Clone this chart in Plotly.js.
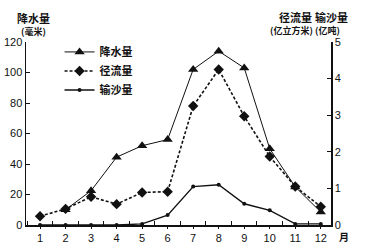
<!DOCTYPE html>
<html><head><meta charset="utf-8">
<script src="https://cdn.plot.ly/plotly-3.0.1.min.js"></script>
<style>html,body{margin:0;padding:0;background:#fff}#c{width:365px;height:243px}</style>
</head><body><div id="c"></div>
<script>
const months = [1,2,3,4,5,6,7,8,9,10,11,12];
const monthLabels = ['1','2','3','4','5','6','7','8','9','10','11','12'];
const precipitation = [null,10,22.5,44.5,52,56,102,114,103,50,25,8.5];   // 毫米
const runoff = [0.24,0.44,0.77,0.57,0.89,0.91,3.25,4.25,2.97,1.87,1.05,0.5]; // 亿立方米
const sediment = [0,0,0,0,0.03,0.27,1.05,1.1,0.58,0.4,0.03,0.03];          // 亿吨
const leftTicks = [0,20,40,60,80,100,120];
const rightTicks = [0,1,2,3,4,5];

const cjk = '"Noto Sans CJK SC", sans-serif';
const num = 'Liberation Sans, Arial, sans-serif';

const traces = [
  {x: months, y: precipitation, name: '降水量', type: 'scatter', mode: 'lines+markers',
   line: {color: '#111', width: 1}, marker: {symbol: 'triangle-up', size: 9, color: '#111'},
   yaxis: 'y', connectgaps: false},
  {x: months, y: runoff, name: '径流量', type: 'scatter', mode: 'lines+markers',
   line: {color: '#111', width: 1.6, dash: '3px,2px'}, marker: {symbol: 'diamond', size: 8, color: '#111'},
   yaxis: 'y2'},
  {x: months, y: sediment, name: '输沙量', type: 'scatter', mode: 'lines+markers',
   line: {color: '#111', width: 1.4}, marker: {symbol: 'circle', size: 4, color: '#111'},
   yaxis: 'y2'}
];

function ann(text, px, py, size) {
  return {text: text, xref: 'paper', yref: 'paper', x: (px-26)/305, y: (225-py)/183,
          xanchor: 'center', yanchor: 'middle', showarrow: false,
          font: {family: cjk, size: size, color: '#111', weight: 'bold'}};
}

const layout = {
  width: 365, height: 243,
  margin: {l: 26, r: 34, t: 42, b: 18, pad: 0},
  paper_bgcolor: '#fff', plot_bgcolor: '#fff',
  showlegend: true,
  legend: {x: 0.11, y: 1.025, xanchor: 'left', yanchor: 'top', bgcolor: 'rgba(0,0,0,0)',
           font: {family: cjk, size: 11, color: '#111', weight: 'bold'}, tracegroupgap: 0, itemwidth: 30},
  xaxis: {range: [0.45, 12.4], tickvals: months, ticktext: monthLabels, ticks: 'outside', ticklen: 2,
          tickcolor: '#111', showline: true, linecolor: '#111', linewidth: 1.5, showgrid: false, zeroline: false,
          tickfont: {family: num, size: 11, color: '#111'},
          minor: {tick0: 0.5, dtick: 1, ticks: 'inside', ticklen: 4, tickcolor: '#111', showgrid: false}},
  yaxis: {range: [0, 120], tickvals: leftTicks, ticks: 'inside', ticklen: 4, tickcolor: '#111',
          showline: true, linecolor: '#111', linewidth: 1.5, showgrid: false, zeroline: false,
          tickfont: {family: num, size: 11, color: '#111'}},
  yaxis2: {range: [0, 5], tickvals: rightTicks, overlaying: 'y', side: 'right', ticks: 'inside', ticklen: 4,
           tickcolor: '#111', showline: true, linecolor: '#111', linewidth: 1.5, showgrid: false, zeroline: false,
           tickfont: {family: num, size: 11, color: '#111'}},
  annotations: [
    ann('降水量', 33, 18, 11),
    ann('(毫米)', 33, 32, 9),
    ann('径流量', 295, 17, 11),
    ann('输沙量', 331, 17, 11),
    ann('(亿立方米)', 291, 31, 9),
    ann('(亿吨)', 327, 31, 9),
    ann('月', 344, 236, 10)
  ]
};
Plotly.newPlot('c', traces, layout, {displayModeBar: false, staticPlot: true});
</script></body></html>
